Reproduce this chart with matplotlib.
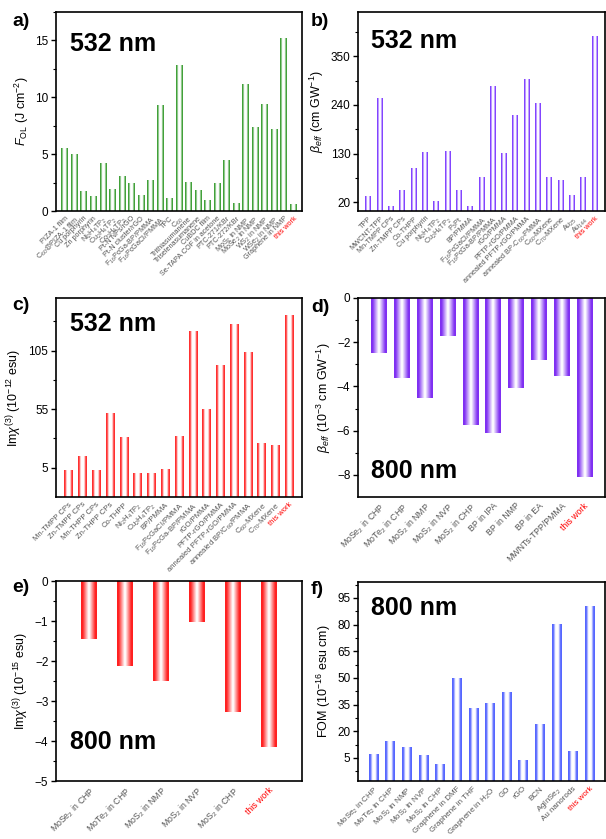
import matplotlib
matplotlib.use("Agg")
import matplotlib.pyplot as plt
import numpy as np
from matplotlib.colors import LinearSegmentedColormap
from matplotlib.ticker import FixedLocator

plt.rcParams['font.family'] = ['Liberation Sans', 'DejaVu Sans']
plt.rcParams['mathtext.fontset'] = 'custom'
plt.rcParams['mathtext.rm'] = 'Liberation Sans'
plt.rcParams['mathtext.it'] = 'Liberation Sans:italic'
plt.rcParams['mathtext.bf'] = 'Liberation Sans:bold'

# ---- data ----
a_names = ["PIZA-1 film", "C$_{60}$@PIZA-1 film", "Cu porphyrin", "Zn porphyrin",
           "Ni$_2$H$_4$TP$_2$", "Cu$_2$H$_4$TP$_2$", "Co$_2$H$_4$TP$_2$", "Pt-N NPs/rGO",
           "Pt-N cluster/rGO", "F$_{16}$PcGa-BP/PMMA", "F$_{16}$PcGaCl/PMMA", "TPC",
           "C$_{60}$", "Trithiasumanene", "Triselenasumanene", "CuBDC film",
           "Se-TAPA COF in acetone", "PTC-271/KBr", "PTC-272/KBr", "MoS$_2$ in NMP",
           "MoSe$_2$ in NMP", "WS$_2$ in NMP", "WSe$_2$ in NMP", "Graphene in NMP", "this work"]
a_vals = [5.5, 5.0, 1.7, 1.3, 4.2, 1.85, 3.0, 2.4, 1.4, 2.65, 9.25, 1.06, 12.8, 2.5,
          1.8, 0.9, 2.4, 4.4, 0.68, 11.15, 7.3, 9.35, 7.2, 15.15, 0.53]

b_names = ["TPP", "MWCNT-TPP", "Mn-TMPP CPs", "Zn-TMPP CPs", "Co-THPP", "Cu porphyrin",
           "Ni$_2$H$_4$TP$_2$", "Cu$_2$H$_4$TP$_2$", "P$_3$Pt", "BP/PMMA",
           "F$_{16}$PcGaCl/PMMA", "F$_{16}$PcGa-BP/PMMA", "rGO/PMMA", "PFTP-rGO/PMMA",
           "annealed PFTP-rGO/PMMA", "annealed BP-C$_{60}$-PMMA", "C$_{60}$-MXene",
           "C$_{70}$-MXene", "Au$_{25}$", "Au$_{144}$", "this work"]
b_vals = [33, 254, 10, 46, 96, 132, 21, 134, 46, 9.5, 76, 282, 129, 216, 297, 242,
          76, 70, 36, 76, 394]

c_names = ["Mn-TMPP CPs", "Zn-TMPP CPs", "Mn-THPP CPs", "Zn-THPP CPs", "Co-THPP",
           "Ni$_2$H$_4$TP$_2$", "Cu$_2$H$_4$TP$_2$", "BP/PMMA", "F$_{16}$PcGaCl/PMMA",
           "F$_{16}$PcGa-BP/PMMA", "rGO/PMMA", "PFTP-rGO/PMMA", "annealed PFTP-rGO/PMMA",
           "annealed BP/C$_{60}$/PMMA", "C$_{60}$-MXene", "C$_{70}$-MXene", "this work"]
c_vals = [2.7, 15, 2.7, 51, 31, 0, 0, 3.3, 32, 121, 55, 92.6, 127.7, 103.6, 26, 24.3, 135]

d_names = ["MoSe$_2$ in CHP", "MoTe$_2$ in CHP", "MoS$_2$ in NMP", "MoS$_2$ in NVP",
           "MoS$_2$ in CHP", "BP in IPA", "BP in NMP", "BP in EA", "MWNTs-TPP/PMMA",
           "this work"]
d_vals = [-2.49, -3.64, -4.53, -1.72, -5.75, -6.11, -4.05, -2.82, -3.55, -8.08]

e_names = ["MoSe$_2$ in CHP", "MoTe$_2$ in CHP", "MoS$_2$ in NMP", "MoS$_2$ in NVP",
           "MoS$_2$ in CHP", "this work"]
e_vals = [-1.46, -2.12, -2.51, -1.03, -3.28, -4.15]

f_names = ["MoSe$_2$ in CHP", "MoTe$_2$ in CHP", "MoS$_2$ in NMP", "MoS$_2$ in NVP",
           "MoS$_2$ in CHP", "Graphene in DMF", "Graphene in THF", "Graphene in H$_2$O",
           "GO", "rGO", "BCN", "AgInSe$_2$", "Au nanorods", "this work"]
f_vals = [6.9, 14.4, 10.6, 6.1, 1.1, 49.7, 32.8, 35.8, 41.8, 3.7, 23.8, 79.8, 8.6, 90.3]

W, H = 606, 839
fig = plt.figure(figsize=(W / 100, H / 100), dpi=100)


def box(l, t, r, b):
    return [l / W, 1 - b / H, (r - l) / W, (b - t) / H]


def grad_bars(ax, vals, color, width, inner, outer, base):
    # colour at both edges, fading to white in the middle of each bar
    cmap = LinearSegmentedColormap.from_list("g", ["white", color])
    u = np.abs(np.linspace(-1, 1, 121))
    g = np.clip((u - inner) / (outer - inner), 0, 1)[None, :]
    for i, v in enumerate(vals):
        ax.imshow(g, cmap=cmap, vmin=0, vmax=1, aspect='auto', interpolation='bilinear',
                  extent=[i - width / 2, i + width / 2, min(base, v), max(base, v)],
                  zorder=2)


def style(ax, names, ylim, major, minor, ylabel, lab_size):
    n = len(names)
    ax.set_xlim(-0.92, n - 0.08)
    ax.set_ylim(*ylim)
    ax.set_xticks(np.arange(n))
    ax.set_xticklabels(names, rotation=45, ha='right', rotation_mode='anchor',
                       fontsize=lab_size, color='#555555')
    for t in ax.get_xticklabels():
        if t.get_text() == "this work":
            t.set_color('red')
    ax.tick_params(axis='x', length=0, pad=3)
    ax.yaxis.set_major_locator(FixedLocator(major))
    ax.yaxis.set_minor_locator(FixedLocator(minor))
    ax.tick_params(axis='y', which='major', direction='out', length=3.5, width=1,
                   labelsize=8.5, pad=2)
    ax.tick_params(axis='y', which='minor', direction='out', length=2, width=0.8)
    for s in ax.spines.values():
        s.set_linewidth(1.2)
    ax.set_ylabel(ylabel, fontsize=9, labelpad=3)


# a
ax = fig.add_axes(box(56, 12, 302, 211))
grad_bars(ax, a_vals, '#3e9f36', 0.7, 0.35, 0.75, 0)
style(ax, a_names, (0, 17.5), [0, 5, 10, 15], [2.5, 7.5, 12.5, 17.5],
      r"$F_{\mathrm{OL}}$ (J cm$^{-2}$)", 5.2)

# b
ax = fig.add_axes(box(358, 12, 605, 211))
grad_bars(ax, b_vals, '#8040ff', 0.52, 0.3, 0.7, 0)
style(ax, b_names, (0, 450), [20, 130, 240, 350], [75, 185, 295, 405],
      r"$\beta_{eff}$ (cm GW$^{-1}$)", 5.2)

# c
ax = fig.add_axes(box(56, 298, 302, 497))
grad_bars(ax, c_vals, '#ff3030', 0.62, 0.35, 0.75, -20)
style(ax, c_names, (-20, 150), [5, 55, 105], [30, 80, 130],
      r"Im$\chi^{(3)}$ (10$^{-12}$ esu)", 5.5)

# d
ax = fig.add_axes(box(358, 298, 605, 497))
grad_bars(ax, d_vals, '#7f2ff2', 0.66, 0.05, 0.8, 0)
style(ax, d_names, (-9, 0), [0, -2, -4, -6, -8], [-1, -3, -5, -7],
      r"$\beta_{eff}$ (10$^{-3}$ cm GW$^{-1}$)", 6.3)

# e
ax = fig.add_axes(box(56, 581, 302, 781))
grad_bars(ax, e_vals, '#ff2020', 0.44, 0.05, 0.8, 0)
style(ax, e_names, (-5, 0), [0, -1, -2, -3, -4, -5],
      [-0.5, -1.5, -2.5, -3.5, -4.5], r"Im$\chi^{(3)}$ (10$^{-15}$ esu)", 6.3)

# f
ax = fig.add_axes(box(358, 582, 605, 781))
grad_bars(ax, f_vals, '#5566ff', 0.56, 0.3, 0.72, -8)
style(ax, f_names, (-8, 104), [5, 20, 35, 50, 65, 80, 95],
      [-2.5, 12.5, 27.5, 42.5, 57.5, 72.5, 87.5, 102.5],
      r"FOM (10$^{-16}$ esu cm)", 5.8)

# panel letters and wavelength tags
for x, y, s in [(12, 22, "a)"), (311, 22, "b)"), (12, 306, "c)"),
                (311, 307, "d)"), (12, 588, "e)"), (311, 590, "f)")]:
    fig.text(x / W, 1 - y / H, s, fontsize=14, fontweight='bold', va='center')
for x, y, s in [(70, 44, "532 nm"), (371, 41, "532 nm"), (70, 324, "532 nm"),
                (371, 471, "800 nm"), (70, 742, "800 nm"), (371, 608, "800 nm")]:
    fig.text(x / W, 1 - y / H, s, fontsize=18, fontweight='bold', va='center')

fig.savefig("out.png", dpi=100)
